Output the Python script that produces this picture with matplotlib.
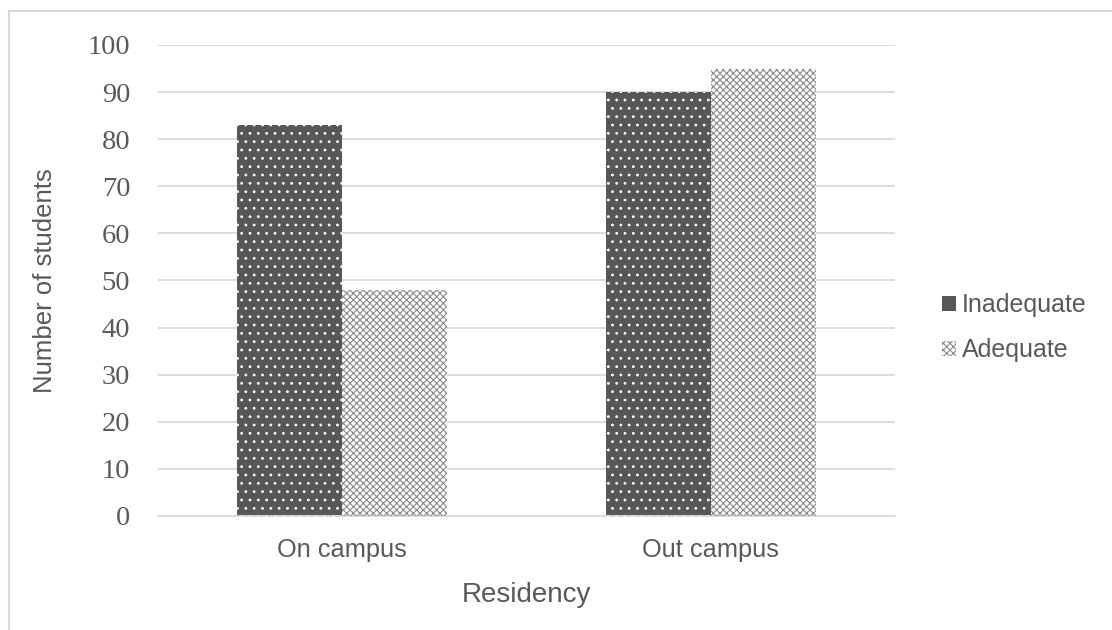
import matplotlib.pyplot as plt
import matplotlib.patches as mpatches
import numpy as np

categories = ["On campus", "Out campus"]
inadequate = [83, 90]
adequate = [48, 95]
yticks = [0, 10, 20, 30, 40, 50, 60, 70, 80, 90, 100]

plt.rcParams["hatch.linewidth"] = 0.8
text_col = "#595959"
grid_col = "#d9d9d9"
dark = "#575757"
hatch_col = "#8a8a8a"

fig = plt.figure(figsize=(11.12, 6.3), dpi=100)
ax = fig.add_axes([0.1421, 0.181, 0.6628, 0.7476])

x = np.arange(len(categories))
w = 0.285

# dark bars with white dots
ax.bar(x - w / 2, inadequate, w, color=dark, lw=0, zorder=2)
ax.bar(x - w / 2, inadequate, w, facecolor="none", edgecolor="white", hatch="..", lw=0, zorder=3)
# white bars with grey cross-hatch
ax.bar(x + w / 2, adequate, w, color="white", lw=0, zorder=2)
ax.bar(x + w / 2, adequate, w, facecolor="none", edgecolor=hatch_col, hatch="xxxxx", lw=0, zorder=3)

ax.set_xlim(-0.5, 1.5)
ax.set_ylim(0, 100)
ax.set_yticks(yticks)
ax.set_yticklabels([str(v) for v in yticks], family="Liberation Serif", fontsize=20.5, color=text_col)
ax.set_xticks(x)
ax.set_xticklabels(categories, family="Liberation Sans", fontsize=18.3, color=text_col)
ax.tick_params(axis="y", length=0, pad=20)
ax.tick_params(axis="x", length=0, pad=16)
ax.yaxis.grid(True, color=grid_col, lw=1.3, zorder=0)
ax.set_axisbelow(True)
for s in ["top", "right", "left"]:
    ax.spines[s].set_visible(False)
ax.spines["bottom"].set_color(grid_col)
ax.spines["bottom"].set_linewidth(1.3)

ax.set_xlabel("Residency", family="Liberation Sans", fontsize=20, color=text_col, labelpad=14)
ax.set_ylabel("Number of students", family="Liberation Sans", fontsize=18.5, color=text_col, labelpad=22)

handles = [
    mpatches.Patch(facecolor=dark, edgecolor=dark, lw=0),
    mpatches.Patch(facecolor="white", edgecolor=hatch_col, hatch="xxxxx", lw=0),
]
fig.legend(handles, ["Inadequate", "Adequate"], loc="center left",
           bbox_to_anchor=(0.827, 0.48), frameon=False,
           prop={"family": "Liberation Sans", "size": 18},
           labelcolor=text_col, handlelength=0.55, handleheight=0.55,
           handletextpad=0.25, labelspacing=0.85)

# chart border
fig.patches.append(mpatches.Rectangle((0.008, -0.1), 1.2, 1.082, transform=fig.transFigure,
                                      fill=False, edgecolor=grid_col, lw=1.5))

fig.savefig("out.png", dpi=100)
